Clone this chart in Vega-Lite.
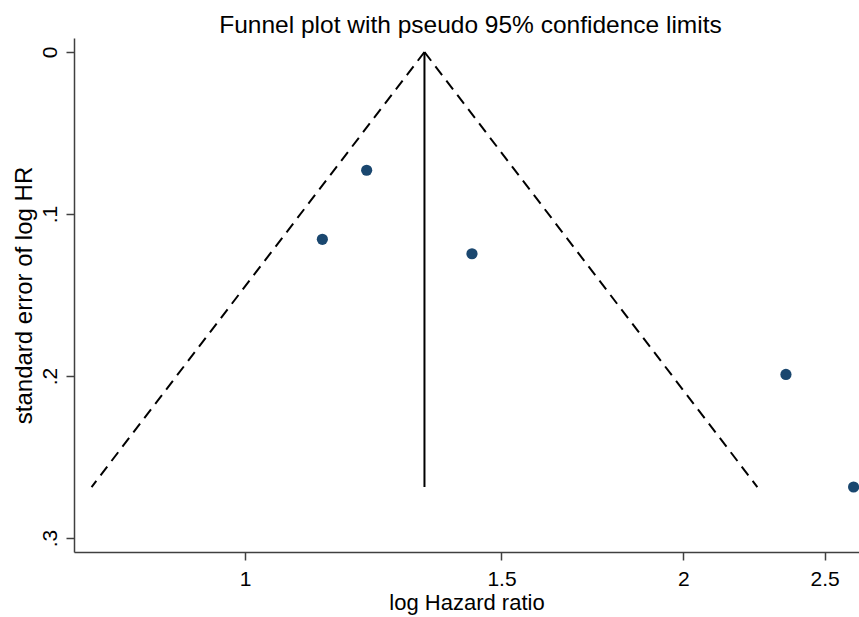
{
  "$schema": "https://vega.github.io/schema/vega-lite/v6.json",
  "autosize": "none",
  "width": 785,
  "height": 514,
  "padding": {"left": 74, "top": 38, "right": 0, "bottom": 65},
  "background": "white",
  "config": {
    "view": {"stroke": null},
    "font": "Liberation Sans",
    "axis": {"grid": false, "domainColor": "#404040", "domainWidth": 1.5, "tickColor": "#404040", "tickWidth": 1.5, "tickSize": 8, "labelColor": "black", "titleColor": "black", "labelFont": "Liberation Sans", "titleFont": "Liberation Sans", "labelFontSize": 21, "titleFontSize": 22, "titleFontWeight": "normal"}
  },
  "title": {"text": "Funnel plot with pseudo 95% confidence limits", "font": "Liberation Sans", "fontSize": 24.5, "fontWeight": "normal", "color": "black", "anchor": "middle", "baseline": "bottom", "offset": 1, "dy": 25, "dx": 4},
  "datasets": {
    "studies": [
      {"hr": 1.212, "se": 0.0730},
      {"hr": 1.130, "se": 0.1156},
      {"hr": 1.4316, "se": 0.1245},
      {"hr": 2.352, "se": 0.1990},
      {"hr": 2.6175, "se": 0.2685}
    ],
    "limits": [
      {"line": "lower", "hr": 1.328, "se": 0, "k": 0},
      {"line": "lower", "hr": 0.7845, "se": 0.2685, "k": 1},
      {"line": "upper", "hr": 1.328, "se": 0, "k": 0},
      {"line": "upper", "hr": 2.248, "se": 0.2685, "k": 1}
    ],
    "center": [
      {"hr": 1.328, "se": 0, "k": 0},
      {"hr": 1.328, "se": 0.2685, "k": 1}
    ]
  },
  "layer": [
    {
      "data": {"name": "limits"},
      "mark": {"type": "line", "color": "black", "strokeWidth": 2, "strokeDash": [11, 7]},
      "encoding": {
        "x": {"field": "hr", "type": "quantitative", "scale": {"type": "log", "domain": [0.763, 2.64], "nice": false},
              "axis": {"values": [1, 1.5, 2, 2.5], "labelExpr": "format(datum.value, '~g')", "title": "log Hazard ratio", "labelPadding": 8, "titlePadding": 3}},
        "y": {"field": "se", "type": "quantitative", "scale": {"domain": [-0.00864, 0.3086], "reverse": true, "nice": false, "zero": false},
              "axis": {"values": [0, 0.1, 0.2, 0.3], "labelExpr": "datum.value == 0 ? '0' : replace(format(datum.value, '.1f'), '0.', '.')", "labelAngle": -90, "labelAlign": "center", "labelBaseline": "bottom", "labelPadding": 6, "title": "standard error of log HR", "titleFontSize": 24, "titlePadding": 3}},
        "detail": {"field": "line"},
        "order": {"field": "k"}
      }
    },
    {
      "data": {"name": "center"},
      "mark": {"type": "line", "color": "black", "strokeWidth": 2},
      "encoding": {
        "x": {"field": "hr", "type": "quantitative"},
        "y": {"field": "se", "type": "quantitative"},
        "order": {"field": "k"}
      }
    },
    {
      "data": {"name": "studies"},
      "mark": {"type": "circle", "color": "#1a476f", "opacity": 1, "size": 125},
      "encoding": {
        "x": {"field": "hr", "type": "quantitative"},
        "y": {"field": "se", "type": "quantitative"}
      }
    }
  ]
}
